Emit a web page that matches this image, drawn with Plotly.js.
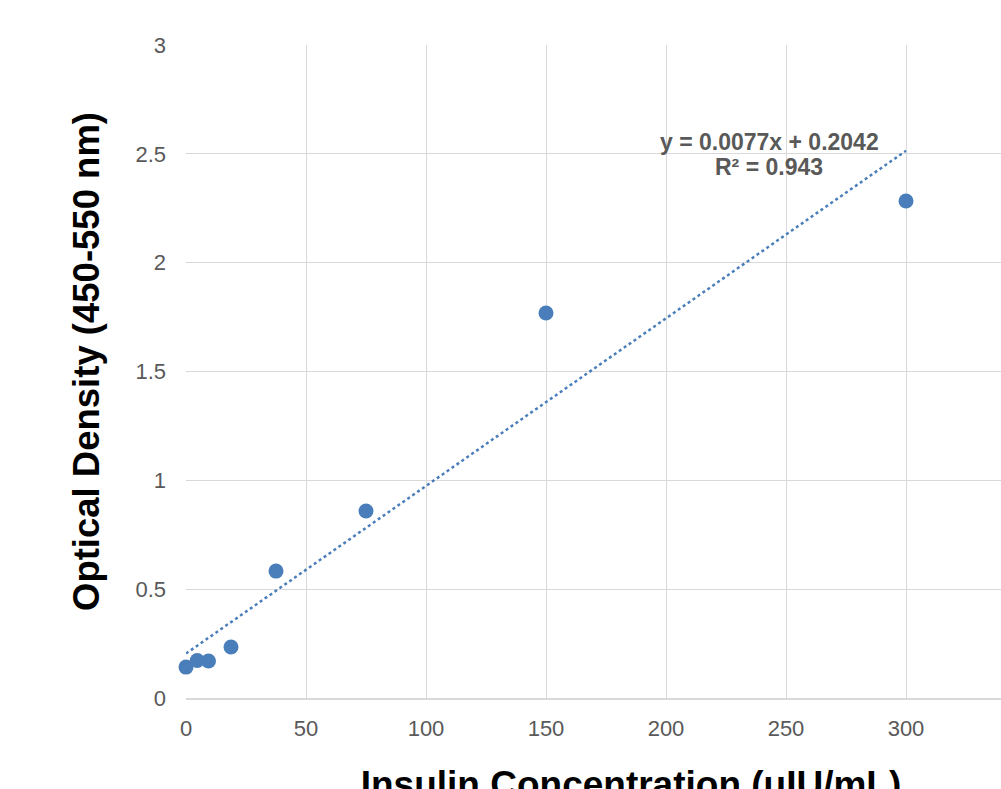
<!DOCTYPE html>
<html><head><meta charset="utf-8">
<script src="https://cdn.plot.ly/plotly-3.0.1.min.js"></script>
<style>html,body{margin:0;padding:0;overflow:hidden;background:#fff}</style>
</head><body>
<div id="chart"></div>
<script>
const concentration = [0, 4.6875, 9.375, 18.75, 37.5, 75, 150, 300];
const opticalDensity = [0.142, 0.172, 0.170, 0.234, 0.583, 0.859, 1.769, 2.283];
const trendSlope = 0.0077;
const trendIntercept = 0.2042;
const trendX = [0, 300];
const trendY = trendX.map(x => trendSlope * x + trendIntercept);
const xTicks = [0, 50, 100, 150, 200, 250, 300];
const yTicks = [0, 0.5, 1, 1.5, 2, 2.5, 3];
const xTitle = 'Insulin Concentration (uIU/mL)';
const yTitle = 'Optical Density (450-550 nm)';
const fitEquation = 'y = 0.0077x + 0.2042';
const fitR2 = 'R² = 0.943';

const blue = '#4a7ebb';
const data = [
  {x: trendX, y: trendY, type: 'scatter', mode: 'lines',
   line: {color: blue, width: 2.5, dash: 'dot'}, hoverinfo: 'skip'},
  {x: concentration, y: opticalDensity, type: 'scatter', mode: 'markers',
   cliponaxis: false, marker: {color: blue, size: 15}}
];
const layout = {
  width: 1076, height: 860,
  margin: {l: 186, r: 0, t: 45, b: 162},
  showlegend: false,
  paper_bgcolor: '#fff', plot_bgcolor: '#fff',
  font: {family: 'Liberation Sans, Arial, sans-serif'},
  xaxis: {range: [0, 370.83], tickvals: xTicks, ticktext: xTicks.map(String),
    showgrid: true, gridcolor: '#d9d9d9', gridwidth: 1,
    zeroline: false, showline: true, linecolor: '#d9d9d9', linewidth: 2,
    ticks: '', ticklabelstandoff: 10, tickfont: {size: 22, color: '#595959'},
    title: {text: xTitle, font: {size: 37, color: '#000', weight: 'bold'}, standoff: 31},
    automargin: false},
  yaxis: {range: [0, 3], tickvals: yTicks, ticktext: yTicks.map(String),
    showgrid: true, gridcolor: '#d9d9d9', gridwidth: 1,
    zeroline: false, showline: false,
    ticks: '', ticklabelstandoff: 19, tickfont: {size: 22, color: '#595959'},
    automargin: false},
  annotations: [{
    x: 243, y: 2.554, xref: 'x', yref: 'y', showarrow: false,
    text: fitEquation, font: {size: 23, color: '#595959', weight: 'bold'}
  }, {
    x: 243, y: 2.439, xref: 'x', yref: 'y', showarrow: false,
    text: fitR2, font: {size: 23, color: '#595959', weight: 'bold'}
  }, {
    x: (86 - 186) / 890, y: (698 - 362) / 653, xref: 'paper', yref: 'paper',
    xanchor: 'center', yanchor: 'middle', textangle: -90, showarrow: false,
    text: yTitle, font: {size: 36.5, color: '#000', weight: 'bold'}
  }]
};
Plotly.newPlot('chart', data, layout, {displayModeBar: false});
</script>
</body></html>
